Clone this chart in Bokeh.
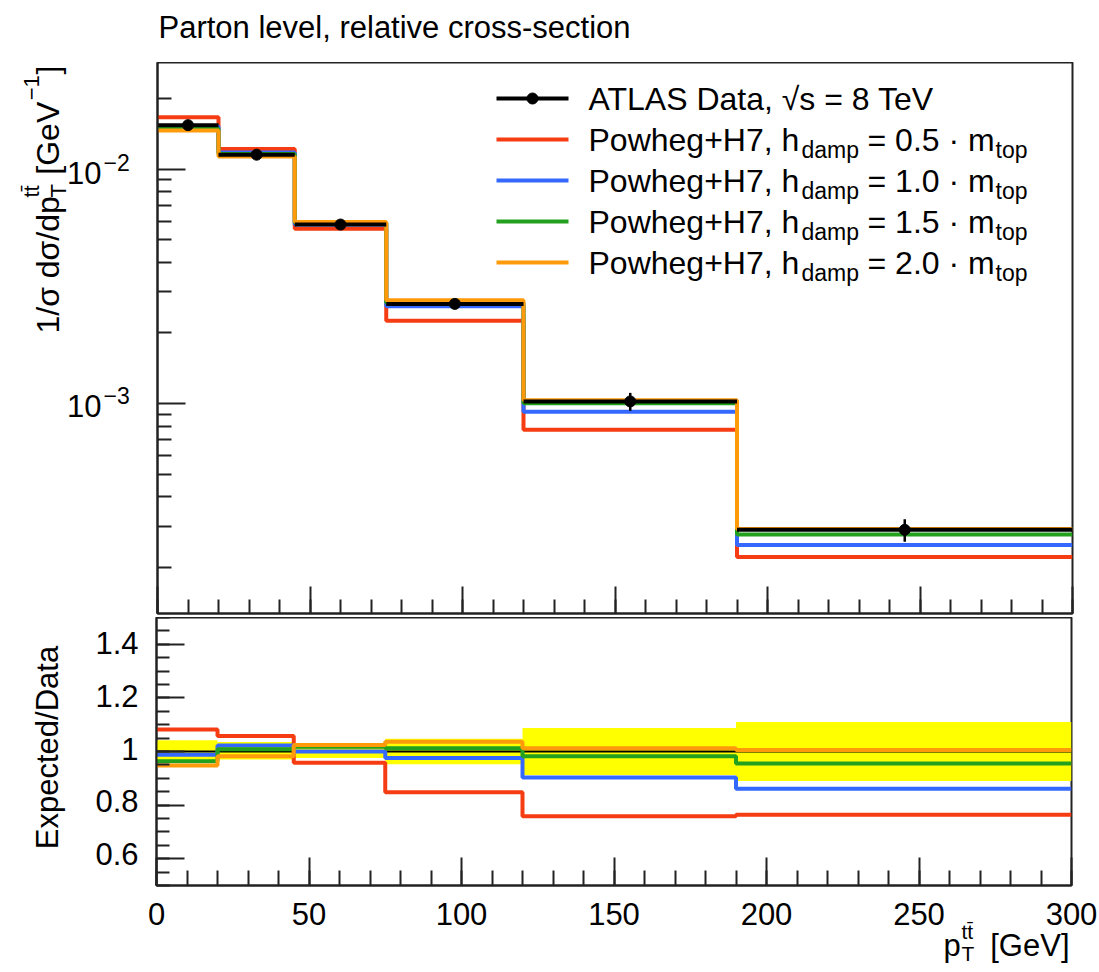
import math
from bokeh.plotting import figure
from bokeh.layouts import column, row
from bokeh.models import Range1d, FixedTicker, CustomLabelingPolicy
from bokeh.core.properties import value
from bokeh.embed import file_html
from bokeh.resources import INLINE

# ---------------- data ----------------
edges = [0, 20, 45, 75, 120, 190, 300]
centers = [10, 32.5, 60, 97.5, 155, 245]

data = [0.0154, 0.01152, 0.0058, 0.00266, 0.00102, 0.000289]

pred_red = [0.01666, 0.01219, 0.00556, 0.002256, 0.000773, 0.000221]     # hdamp = 0.5 mtop
pred_blue = [0.01522, 0.01177, 0.00580, 0.002596, 0.000921, 0.000249]    # hdamp = 1.0 mtop
pred_green = [0.01485, 0.01161, 0.00590, 0.002692, 0.001002, 0.000276]   # hdamp = 1.5 mtop
pred_orange = [0.01460, 0.01131, 0.00594, 0.002756, 0.001032, 0.000291]  # hdamp = 2.0 mtop

ratio_data = [1.0, 1.0, 1.0, 1.0, 1.0, 1.0]
ratio_red = [1.082, 1.058, 0.958, 0.848, 0.758, 0.764]
ratio_blue = [0.988, 1.022, 1.000, 0.976, 0.903, 0.861]
ratio_green = [0.964, 1.008, 1.018, 1.012, 0.982, 0.955]
ratio_orange = [0.948, 0.982, 1.024, 1.036, 1.012, 1.006]
band_hi = [1.042, 1.035, 1.020, 1.048, 1.088, 1.110]
band_lo = [0.958, 0.970, 0.976, 0.952, 0.912, 0.890]

x_ticks = [0, 50, 100, 150, 200, 250, 300]
x_tick_labels = ["0", "50", "100", "150", "200", "250", "300"]
log_ticks = [1e-2, 1e-3]
log_tick_exps = ["−2", "−3"]
ratio_ticks = [0.6, 0.8, 1.0, 1.2, 1.4]
ratio_tick_labels = ["0.6", "0.8", "1", "1.2", "1.4"]

legend_labels = ["ATLAS Data, √s = 8 TeV", "0.5", "1.0", "1.5", "2.0"]

# ---------------- geometry / styling ----------------
FONT = "Liberation Sans"
C_RED = "#f63c12"
C_BLUE = "#3468ff"
C_GREEN = "#22a01e"
C_ORANGE = "#ff9a0a"
C_YELLOW = "#ffff00"

W = 1099
H = 972
L, R = 156, 1071
TOP_T, TOP_B = 62, 613
AXP = 4                 # space taken by an axis whose labels are hidden
RAT_T = TOP_B + AXP
RAT_B = 885
XMIN, XMAX = 0, 300
YMIN, YMAX = 1.27e-4, 0.0285
RMIN, RMAX = 0.5, 1.5
LW = 4
LEFT_W = L - AXP

NO_LABELS = CustomLabelingPolicy(code="""
for (const i of indices) { indices.unset(i) }
return indices
""")


def tx(px):
    return XMIN + (px - L) / (R - L) * (XMAX - XMIN)


def ty(py):
    lo, hi = math.log10(YMIN), math.log10(YMAX)
    return 10 ** (lo + (TOP_B - py) / (TOP_B - TOP_T) * (hi - lo))


def px_of(v):
    return L + (v - XMIN) / (XMAX - XMIN) * (R - L)


def py_of(v):
    lo, hi = math.log10(YMIN), math.log10(YMAX)
    return TOP_B - (math.log10(v) - lo) / (hi - lo) * (TOP_B - TOP_T)


def rpy_of(v):
    return RAT_B - (v - RMIN) / (RMAX - RMIN) * (RAT_B - RAT_T)


def text_fig(w, h):
    f = figure(width=w, height=h, x_range=Range1d(0, w), y_range=Range1d(h, 0),
               output_backend="svg", toolbar_location=None, min_border=0,
               x_axis_location=None, y_axis_location=None)
    f.grid.visible = False
    f.outline_line_color = None
    f.background_fill_color = "white"
    f.border_fill_color = "white"
    return f


def txt(fig, ox, oy, px, py, text, size, align="left", angle=0.0):
    # (px, py): page pixel position of the text's left/centre/right end and vertical middle
    fig.text(x=[px - ox], y=[py - oy], text=[text], text_font=value(FONT),
             text_font_size=value(f"{size}px"), text_align=align,
             text_baseline="middle", angle=angle, text_color="black")


def style_axis(ax, major_in, minor_in):
    ax.axis_line_color = "#222222"
    ax.axis_line_width = 2
    ax.major_tick_in = major_in
    ax.major_tick_out = 0
    ax.minor_tick_in = minor_in
    ax.minor_tick_out = 0
    ax.major_tick_line_color = "#222222"
    ax.minor_tick_line_color = "#222222"
    ax.major_tick_line_width = 2
    ax.minor_tick_line_width = 2
    ax.major_label_policy = NO_LABELS
    ax.major_label_text_font_size = "1px"
    ax.major_label_standoff = 0


def base_fig(frame_h, y_range, y_type):
    f = figure(frame_width=R - L, frame_height=frame_h,
               x_range=Range1d(XMIN, XMAX), y_range=y_range,
               y_axis_type=y_type, output_backend="svg",
               toolbar_location=None, min_border_left=0,
               min_border_right=W - R, min_border_top=0,
               min_border_bottom=0)
    f.grid.visible = False
    f.outline_line_color = "#222222"
    f.outline_line_width = 2
    f.background_fill_color = "white"
    f.border_fill_color = "white"
    return f


# ---------------- title ----------------
title_fig = text_fig(W, TOP_T)
txt(title_fig, 0, 0, 158, 27, "Parton level, relative cross-section", 31)

# ---------------- top panel ----------------
top = base_fig(TOP_B - TOP_T, Range1d(YMIN, YMAX), "log")
style_axis(top.xaxis[0], 27, 14)
top.xaxis.ticker = FixedTicker(ticks=x_ticks, minor_ticks=list(range(0, 301, 10)))
style_axis(top.yaxis[0], 28, 14)
minor_log = [m * 10 ** e for e in (-4, -3, -2) for m in range(2, 10)]
top.yaxis.ticker = FixedTicker(ticks=log_ticks, minor_ticks=minor_log)

for vals, col in [(pred_red, C_RED), (pred_blue, C_BLUE),
                  (pred_green, C_GREEN), (pred_orange, C_ORANGE)]:
    top.step(edges, vals + [vals[-1]], mode="after", line_color=col, line_width=LW)

top.segment(x0=edges[:-1], x1=edges[1:], y0=data, y1=data, line_color="black", line_width=LW)
top.segment(x0=centers, x1=centers,
            y0=[d * b for d, b in zip(data, band_lo)],
            y1=[d * b for d, b in zip(data, band_hi)],
            line_color="black", line_width=2.5)
top.scatter(centers, data, size=11, fill_color="black", line_color="black")

# legend (inside the frame)
rows = [98, 139, 180, 221, 262]
cols = ["black", C_RED, C_BLUE, C_GREEN, C_ORANGE]
top.segment(x0=[tx(495)] * 5, x1=[tx(567)] * 5, y0=[ty(r) for r in rows],
            y1=[ty(r) for r in rows], line_color=cols, line_width=LW)
top.scatter([tx(531)], [ty(rows[0])], size=11, fill_color="black", line_color="black")


def ltxt(px, py, text, size):
    top.text(x=[tx(px)], y=[ty(py)], text=[text], text_font=value(FONT),
             text_font_size=value(f"{size}px"), text_align="left",
             text_baseline="middle", text_color="black")


ltxt(587, rows[0], legend_labels[0], 32)
for r, h in zip(rows[1:], legend_labels[1:]):
    ltxt(587, r, "Powheg+H7, h", 32)
    ltxt(800, r + 10, "damp", 23)
    ltxt(866, r, f"= {h} · m", 32)
    ltxt(994, r + 10, "top", 23)

# left text column for the top panel
left_top = text_fig(LEFT_W, TOP_B - TOP_T)
OY = TOP_T
for v, e in zip(log_ticks, log_tick_exps):
    p = py_of(v)
    txt(left_top, 0, OY, 101, p + 5, "10", 31, align="right")
    txt(left_top, 0, OY, 103, p - 6, e, 23)
A = math.pi / 2
txt(left_top, 0, OY, 47, 335, "1/σ dσ/dp", 32, angle=A)
txt(left_top, 0, OY, 58, 198, "T", 22, angle=A)
txt(left_top, 0, OY, 31, 198, "tt̄", 22, angle=A)
txt(left_top, 0, OY, 47, 175, "[GeV", 32, angle=A)
txt(left_top, 0, OY, 31, 100, "−1", 22, angle=A)
txt(left_top, 0, OY, 47, 74, "]", 32, angle=A)

# ---------------- ratio panel ----------------
rat = base_fig(RAT_B - RAT_T, Range1d(RMIN, RMAX), "linear")
style_axis(rat.xaxis[0], 28, 15)
rat.xaxis.ticker = FixedTicker(ticks=x_ticks, minor_ticks=list(range(0, 301, 10)))
style_axis(rat.yaxis[0], 28, 13)
rat.yaxis.ticker = FixedTicker(ticks=ratio_ticks,
                               minor_ticks=[0.5 + 0.05 * i for i in range(21)])

rat.quad(left=edges[:-1], right=edges[1:], bottom=band_lo, top=band_hi,
         fill_color=C_YELLOW, line_color=None)
rat.segment(x0=edges[:-1], x1=edges[1:], y0=ratio_data, y1=ratio_data,
            line_color="black", line_width=2)
for vals, col in [(ratio_red, C_RED), (ratio_blue, C_BLUE),
                  (ratio_green, C_GREEN), (ratio_orange, C_ORANGE)]:
    rat.step(edges, vals + [vals[-1]], mode="after", line_color=col, line_width=LW)

left_rat = text_fig(LEFT_W, RAT_B - RAT_T)
OY2 = RAT_T
for v, s in zip(ratio_ticks, ratio_tick_labels):
    txt(left_rat, 0, OY2, 138, rpy_of(v) - 1, s, 31, align="right")
txt(left_rat, 0, OY2, 47, 749, "Expected/Data", 31, align="center", angle=A)

# ---------------- x labels ----------------
OY3 = RAT_B + AXP
bottom_fig = text_fig(W, H - OY3)
for v, s in zip(x_ticks, x_tick_labels):
    txt(bottom_fig, 0, OY3, px_of(v), 913, s, 31, align="center")
txt(bottom_fig, 0, OY3, 943, 945, "p", 31)
txt(bottom_fig, 0, OY3, 961, 953, "T", 21)
txt(bottom_fig, 0, OY3, 961, 931, "tt̄", 21)
txt(bottom_fig, 0, OY3, 1069, 945, "[GeV]", 31, align="right")

layout = column(title_fig, row(left_top, top), row(left_rat, rat), bottom_fig)
open("out.html", "w").write(file_html(layout, INLINE))
